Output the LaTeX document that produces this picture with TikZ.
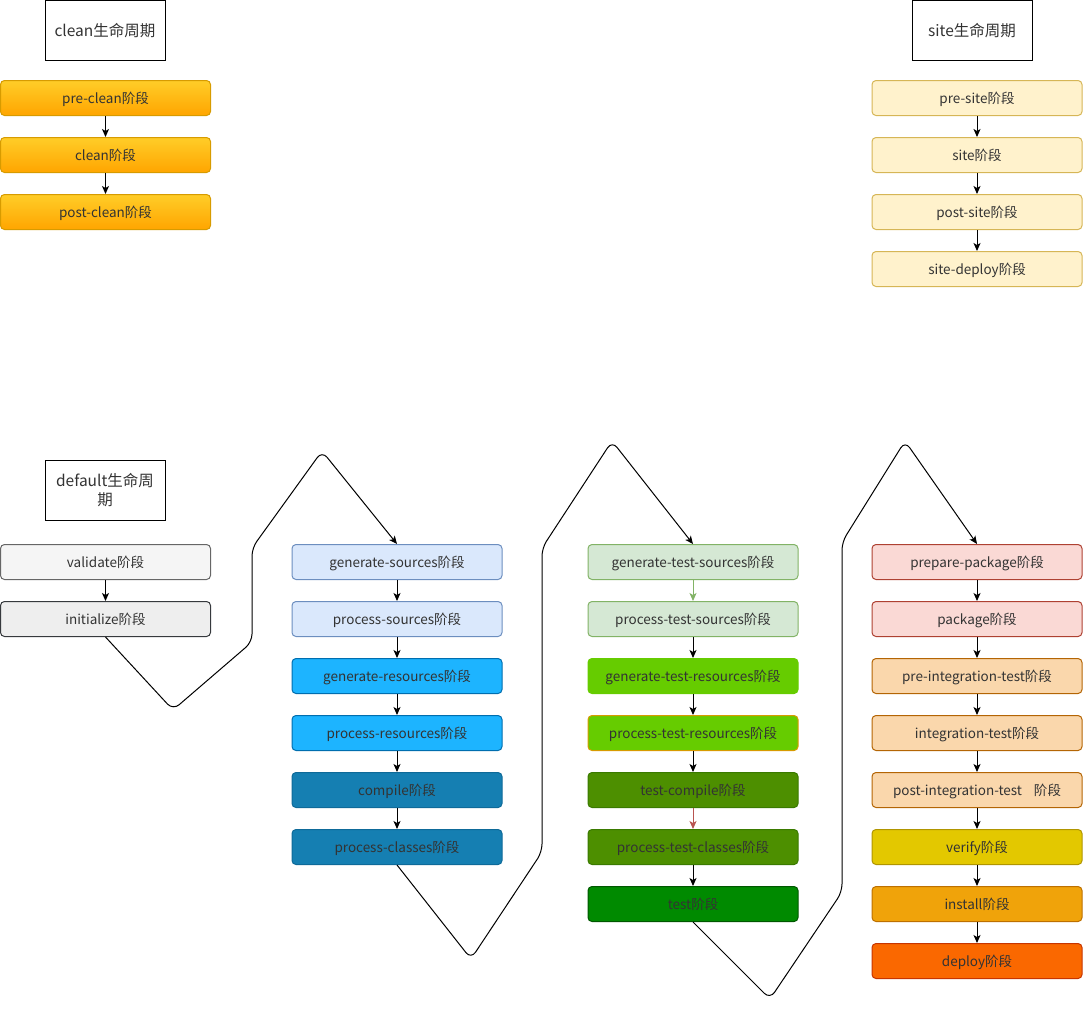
\documentclass[tikz,border=0pt]{standalone}
\usepackage{fontspec}
\newfontfamily\cjk{Noto Sans CJK SC}
\usetikzlibrary{arrows.meta}

\definecolor{cleanTop}{HTML}{FFCD28}
\definecolor{cleanBot}{HTML}{FFA500}
\definecolor{cleanLine}{HTML}{D79B00}
\definecolor{siteFill}{HTML}{FFF2CC}
\definecolor{siteLine}{HTML}{D6B656}
\definecolor{validFill}{HTML}{F5F5F5}
\definecolor{validLine}{HTML}{666666}
\definecolor{initFill}{HTML}{EEEEEE}
\definecolor{initLine}{HTML}{36393D}
\definecolor{srcFill}{HTML}{DAE8FC}
\definecolor{srcLine}{HTML}{6C8EBF}
\definecolor{resFill}{HTML}{1DB4FF}
\definecolor{resLine}{HTML}{006EAF}
\definecolor{cmpFill}{HTML}{157FB2}
\definecolor{cmpLine}{HTML}{0E6A99}
\definecolor{tsrcFill}{HTML}{D5E8D4}
\definecolor{tsrcLine}{HTML}{82B366}
\definecolor{tresFill}{HTML}{66CC00}
\definecolor{tcmpFill}{HTML}{4D8F00}
\definecolor{tcmpLine}{HTML}{3A7A00}
\definecolor{testFill}{HTML}{008A00}
\definecolor{testLine}{HTML}{005700}
\definecolor{pkgFill}{HTML}{FAD9D5}
\definecolor{pkgLine}{HTML}{AE4132}
\definecolor{itFill}{HTML}{FAD7AC}
\definecolor{itLine}{HTML}{B46504}
\definecolor{verFill}{HTML}{E3C800}
\definecolor{verLine}{HTML}{B09500}
\definecolor{instFill}{HTML}{F0A30A}
\definecolor{instLine}{HTML}{BD7000}
\definecolor{depFill}{HTML}{FA6800}
\definecolor{depLine}{HTML}{C73500}
\definecolor{redArrow}{HTML}{B85450}
\definecolor{txt}{HTML}{333333}

\tikzset{
  phase/.style={draw, line width=1pt, rounded corners=4pt, minimum width=210pt,
    minimum height=35pt, inner sep=0pt, text height=11pt, text depth=0pt,
    text=txt, font=\cjk\fontsize{13.5}{16}\selectfont},
  cycletitle/.style={draw, line width=1pt, minimum width=120pt, minimum height=60pt,
    inner sep=2pt, align=center, text=txt, font=\cjk\fontsize{15.5}{19}\selectfont},
  flow/.style={line width=1pt, -{Stealth[length=8pt,width=7pt,inset=2pt]}},
  loop/.style={flow, rounded corners=8pt}
}

\begin{document}
\begin{tikzpicture}[x=1pt,y=1pt,yscale=-1,xscale=1]
	\useasboundingbox (0,0) rectangle (1083,1010);

	% Title Nodes
	\node [cycletitle] (cleantitle) at (105,30.5) {clean生命周期};
	\node [cycletitle] (sitetitle) at (972,30.5) {site生命周期};
	\node [cycletitle] (defaulttitle) at (105,490.5) {default生命周\\期};

	%Shape: clean lifecycle
	\node [phase, draw=cleanLine, top color=cleanTop, bottom color=cleanBot] (preclean) at (105.5,98) {pre-clean阶段};
	\node [phase, draw=cleanLine, top color=cleanTop, bottom color=cleanBot] (clean) at (105.5,155) {clean阶段};
	\node [phase, draw=cleanLine, top color=cleanTop, bottom color=cleanBot] (postclean) at (105.5,212) {post-clean阶段};

	%Shape: site lifecycle
	\node [phase, draw=siteLine, fill=siteFill] (presite) at (977,98) {pre-site阶段};
	\node [phase, draw=siteLine, fill=siteFill] (site) at (977,155) {site阶段};
	\node [phase, draw=siteLine, fill=siteFill] (postsite) at (977,212) {post-site阶段};
	\node [phase, draw=siteLine, fill=siteFill] (sitedeploy) at (977,269) {site-deploy阶段};

	%Shape: default lifecycle, column 1
	\node [phase, draw=validLine, fill=validFill] (validate) at (105.5,562) {validate阶段};
	\node [phase, draw=initLine, fill=initFill] (initialize) at (105.5,619) {initialize阶段};

	%Shape: default lifecycle, column 2
	\node [phase, draw=srcLine, fill=srcFill] (gensrc) at (397,562) {generate-sources阶段};
	\node [phase, draw=srcLine, fill=srcFill] (procsrc) at (397,619) {process-sources阶段};
	\node [phase, draw=resLine, fill=resFill] (genres) at (397,676) {generate-resources阶段};
	\node [phase, draw=resLine, fill=resFill] (procres) at (397,733) {process-resources阶段};
	\node [phase, draw=cmpLine, fill=cmpFill] (compile) at (397,790) {compile阶段};
	\node [phase, draw=cmpLine, fill=cmpFill] (proccls) at (397,847) {process-classes阶段};

	%Shape: default lifecycle, column 3
	\node [phase, draw=tsrcLine, fill=tsrcFill] (gentsrc) at (693,562) {generate-test-sources阶段};
	\node [phase, draw=tsrcLine, fill=tsrcFill] (proctsrc) at (693,619) {process-test-sources阶段};
	\node [phase, draw=tresFill, fill=tresFill] (gentres) at (693,676) {generate-test-resources阶段};
	\node [phase, draw=cleanLine, fill=tresFill] (proctres) at (693,733) {process-test-resources阶段};
	\node [phase, draw=tcmpLine, fill=tcmpFill] (tcompile) at (693,790) {test-compile阶段};
	\node [phase, draw=tcmpLine, fill=tcmpFill] (proctcls) at (693,847) {process-test-classes阶段};
	\node [phase, draw=testLine, fill=testFill] (test) at (693,904) {test阶段};

	%Shape: default lifecycle, column 4
	\node [phase, draw=pkgLine, fill=pkgFill] (preppkg) at (977,562) {prepare-package阶段};
	\node [phase, draw=pkgLine, fill=pkgFill] (package) at (977,619) {package阶段};
	\node [phase, draw=itLine, fill=itFill] (preit) at (977,676) {pre-integration-test阶段};
	\node [phase, draw=itLine, fill=itFill] (it) at (977,733) {integration-test阶段};
	\node [phase, draw=itLine, fill=itFill] (postit) at (977,790) {post-integration-test\hspace{12pt}阶段};
	\node [phase, draw=verLine, fill=verFill] (verify) at (977,847) {verify阶段};
	\node [phase, draw=instLine, fill=instFill] (install) at (977,904) {install阶段};
	\node [phase, draw=depLine, fill=depFill] (deploy) at (977,961) {deploy阶段};

	%Straight Lines: steps
	\draw [flow] (preclean) -- (clean);
	\draw [flow] (clean) -- (postclean);
	\draw [flow] (presite) -- (site);
	\draw [flow] (site) -- (postsite);
	\draw [flow] (postsite) -- (sitedeploy);
	\draw [flow] (validate) -- (initialize);
	\draw [flow] (gensrc) -- (procsrc);
	\draw [flow] (procsrc) -- (genres);
	\draw [flow] (genres) -- (procres);
	\draw [flow] (procres) -- (compile);
	\draw [flow] (compile) -- (proccls);
	\draw [flow, draw=tsrcLine] (gentsrc) -- (proctsrc);
	\draw [flow] (proctsrc) -- (gentres);
	\draw [flow] (gentres) -- (proctres);
	\draw [flow] (proctres) -- (tcompile);
	\draw [flow, draw=redArrow] (tcompile) -- (proctcls);
	\draw [flow] (proctcls) -- (test);
	\draw [flow] (preppkg) -- (package);
	\draw [flow] (package) -- (preit);
	\draw [flow] (preit) -- (it);
	\draw [flow] (it) -- (postit);
	\draw [flow] (postit) -- (verify);
	\draw [flow] (verify) -- (install);
	\draw [flow] (install) -- (deploy);

	%Connector Lines: column to column
	\draw [loop] (initialize.south) -- (173,710) -- (252,642) -- (252,548) -- (322,451) -- (gensrc.north);
	\draw [loop] (proccls.south) -- (471,959) -- (542,852) -- (542,548) -- (612,441) -- (gentsrc.north);
	\draw [loop] (test.south) -- (770,999) -- (842,892) -- (842,542) -- (905,441) -- (preppkg.north);
\end{tikzpicture}
\end{document}
